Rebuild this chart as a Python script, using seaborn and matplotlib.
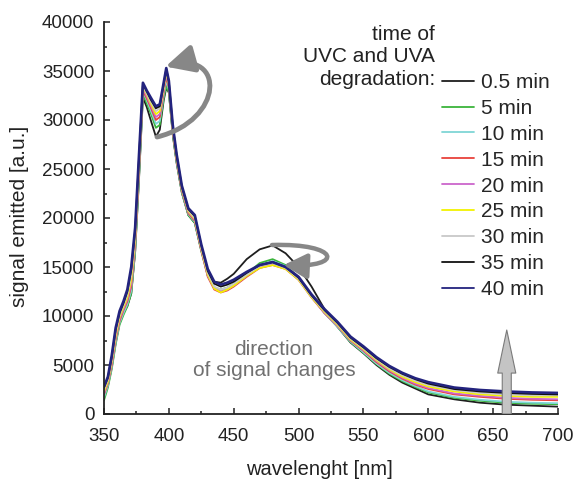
import numpy as np
import pandas as pd
import matplotlib
matplotlib.use("Agg")
import matplotlib.pyplot as plt
import seaborn as sns
from matplotlib.patches import FancyArrowPatch, ArrowStyle
from matplotlib.path import Path
from matplotlib.ticker import MultipleLocator

# ---------------- data ----------------
wavelength = [350, 353, 356, 359, 362, 365, 368, 371, 374, 377, 380, 383, 386, 390,
              393, 396, 398, 400, 403, 406, 410, 415, 420, 425, 430, 435, 440, 445,
              450, 460, 470, 480, 490, 500, 510, 520, 530, 540, 550, 560, 570, 580,
              590, 600, 620, 640, 660, 680, 700]

time_labels = ["0.5 min", "5 min", "10 min", "15 min", "20 min",
               "25 min", "30 min", "35 min", "40 min"]

t_0_5 = [1800, 2900, 4800, 7300, 9300, 10300, 11000, 12300, 16500, 24000, 32300, 31300, 30000, 28300,
         29000, 32000, 33300, 32800, 28500, 25600, 22600, 20300, 19500, 16700, 14400, 13500, 13400, 13800,
         14300, 15800, 16800, 17200, 16400, 15000, 13000, 10700, 8900, 7300, 6200, 5000, 4000, 3200,
         2600, 2000, 1500, 1150, 950, 850, 750]
t_5 = [1400, 2700, 4600, 7100, 9100, 10100, 11000, 12300, 16600, 24200, 32600, 31700, 30700, 29200,
       29500, 32200, 33500, 32800, 28600, 25700, 22600, 20300, 19500, 16600, 14100, 12900, 12700, 12900,
       13300, 14300, 15400, 15800, 15200, 13900, 12000, 10300, 8900, 7350, 6250, 5100, 4100, 3350,
       2750, 2200, 1650, 1350, 1150, 1050, 1000]
t_10 = [1700, 2900, 4800, 7300, 9300, 10300, 11200, 12600, 16900, 24500, 32900, 32000, 31000, 29600,
        29900, 32500, 34000, 33100, 28800, 25800, 22700, 20400, 19600, 16700, 14100, 12900, 12700, 12800,
        13200, 14200, 15200, 15600, 15100, 13900, 12000, 10300, 8900, 7400, 6300, 5150, 4200, 3450,
        2850, 2300, 1750, 1450, 1250, 1150, 1100]
t_15 = [2000, 3100, 5000, 7600, 9500, 10600, 11500, 13000, 17300, 24900, 33000, 32200, 31300, 30000,
        30300, 32800, 34400, 33300, 28900, 25900, 22800, 20500, 19700, 16700, 14000, 12700, 12400, 12600,
        13000, 14000, 14900, 15200, 14800, 13700, 11900, 10300, 9000, 7500, 6450, 5300, 4350, 3600,
        3000, 2550, 2000, 1750, 1550, 1450, 1400]
t_20 = [2100, 3200, 5200, 7800, 9700, 10700, 11700, 13300, 17600, 25200, 33200, 32400, 31500, 30300,
        30600, 33000, 34600, 33500, 29000, 26000, 22900, 20600, 19800, 16800, 14100, 12800, 12500, 12700,
        13100, 14100, 15000, 15300, 14900, 13700, 11900, 10300, 9000, 7550, 6500, 5400, 4450, 3700,
        3100, 2650, 2100, 1850, 1650, 1550, 1500]
t_25 = [2300, 3300, 5400, 8000, 9900, 10900, 11900, 13700, 17900, 25500, 33400, 32600, 31700, 30600,
        30900, 33200, 34900, 33600, 29100, 26100, 23000, 20700, 19900, 16900, 14200, 12800, 12400, 12700,
        13100, 14100, 14900, 15200, 14800, 13700, 11900, 10400, 9100, 7600, 6600, 5500, 4550, 3800,
        3250, 2800, 2300, 2000, 1850, 1750, 1750]
t_30 = [2500, 3500, 5600, 8300, 10100, 11100, 12200, 14200, 18300, 25900, 33500, 32700, 31900, 30900,
        31200, 33400, 35000, 33800, 29200, 26300, 23100, 20800, 20000, 17000, 14400, 13000, 12700, 12900,
        13300, 14200, 15100, 15400, 14900, 13800, 12000, 10500, 9200, 7700, 6700, 5600, 4650, 3950,
        3400, 2950, 2450, 2150, 2000, 1900, 1900]
t_35 = [2700, 3700, 5800, 8600, 10300, 11300, 12500, 14700, 18700, 26200, 33700, 32900, 32100, 31200,
        31400, 33600, 35200, 33900, 29400, 26400, 23200, 20900, 20200, 17200, 14600, 13300, 13000, 13200,
        13500, 14400, 15200, 15500, 15000, 13900, 12100, 10600, 9300, 7800, 6800, 5700, 4800, 4100,
        3550, 3100, 2550, 2300, 2150, 2050, 2000]
t_40 = [2800, 3800, 6000, 8800, 10500, 11500, 12700, 15000, 19000, 26500, 33800, 33000, 32300, 31400,
        31600, 33800, 35300, 34000, 29500, 26500, 23300, 21000, 20300, 17300, 14800, 13500, 13200, 13400,
        13700, 14500, 15200, 15500, 15000, 14000, 12200, 10700, 9400, 7900, 6900, 5800, 4900, 4200,
        3650, 3250, 2700, 2450, 2300, 2200, 2150]

series_values = [t_0_5, t_5, t_10, t_15, t_20, t_25, t_30, t_35, t_40]
line_colors = ["#1e1e1e", "#3cb43c", "#7fd6d6", "#e8423c", "#cc66cc",
               "#f2f200", "#c8c8c8", "#111111", "#23237e"]

# ---------------- figure ----------------
sns.set_style("ticks")
plt.rcParams['font.family'] = ['Liberation Sans', 'DejaVu Sans']

W, H = 574, 479
fig = plt.figure(figsize=(W / 100, H / 100), dpi=100)
ax = fig.add_axes([104 / W, (H - 414) / H, (558 - 104) / W, (414 - 22) / H])

df = pd.concat([pd.DataFrame({"wl": wavelength, "signal": v, "time": lab})
                for v, lab in zip(series_values, time_labels)], ignore_index=True)

sns.lineplot(data=df, x="wl", y="signal", hue="time", hue_order=time_labels,
             palette=dict(zip(time_labels, line_colors)), estimator=None, sort=False,
             linewidth=1.3, ax=ax)
ax.lines[len(time_labels) - 1].set_linewidth(1.9)

ax.set_xlim(350, 700)
ax.set_ylim(0, 40000)
ax.xaxis.set_major_locator(MultipleLocator(50))
ax.xaxis.set_minor_locator(MultipleLocator(25))
ax.yaxis.set_major_locator(MultipleLocator(5000))
ax.yaxis.set_minor_locator(MultipleLocator(2500))
ax.tick_params(which='both', direction='in', width=1.1, color='#222222')
ax.tick_params(which='major', length=4.5, pad=7, labelsize=13.5, labelcolor='#222222')
ax.tick_params(axis='x', which='major', pad=10)
ax.tick_params(which='minor', length=2.5)
sns.despine(ax=ax)
for sp in ("left", "bottom"):
    ax.spines[sp].set_linewidth(1.3)
    ax.spines[sp].set_color('#222222')

ax.set_xlabel("wavelenght [nm]", fontsize=14.5, color='#222222')
ax.xaxis.set_label_coords(0.474, -0.117)
ax.set_ylabel("signal emitted [a.u.]", fontsize=15, color='#222222')
ax.yaxis.set_label_coords(-0.165, 0.505)

# legend
handles, labels = ax.get_legend_handles_labels()
for h in handles:
    h.set_linewidth(1.3)
ax.legend(handles, labels, loc='upper left', bbox_to_anchor=(442 / W, 1 - 73 / H),
          bbox_transform=fig.transFigure, frameon=False, fontsize=15,
          handlelength=1.55, handletextpad=0.3, labelspacing=0.33,
          borderpad=0, borderaxespad=0)
fig.text(435 / W, 1 - 57 / H, "time of\nUVC and UVA\ndegradation:", ha='right', va='center',
         multialignment='right', fontsize=15, color='#222222', linespacing=1.25)

# annotations
arrow_gray = '#878787'
big_path = Path([(390.9, 28265), (443.3, 30000), (443.3, 37143), (397.4, 35450)],
                [Path.MOVETO, Path.CURVE4, Path.CURVE4, Path.CURVE4])
ax.add_patch(FancyArrowPatch(path=big_path, arrowstyle='-|>,head_length=0.85,head_width=0.42',
                             mutation_scale=20, lw=3.5, color=arrow_gray, zorder=5))
small_path = Path([(479.5, 17245), (532.0, 17450), (535.8, 14900), (488.5, 15200)],
                  [Path.MOVETO, Path.CURVE4, Path.CURVE4, Path.CURVE4])
ax.add_patch(FancyArrowPatch(path=small_path, arrowstyle='-|>,head_length=0.7,head_width=0.38',
                             mutation_scale=20, lw=3.2, color=arrow_gray, zorder=5))
ax.add_patch(FancyArrowPatch((660.5, 0), (660.5, 8570),
                             arrowstyle=ArrowStyle.Simple(head_length=3.1, head_width=1.3, tail_width=0.65),
                             mutation_scale=10, shrinkA=0, shrinkB=0,
                             fc='#c4c4c4', ec='#7a7a7a', lw=0.8, zorder=5))
ax.text(481, 5510, "direction\nof signal changes", ha='center', va='center',
        color='#707070', fontsize=15, linespacing=1.1)

fig.savefig("out.png", dpi=100)
